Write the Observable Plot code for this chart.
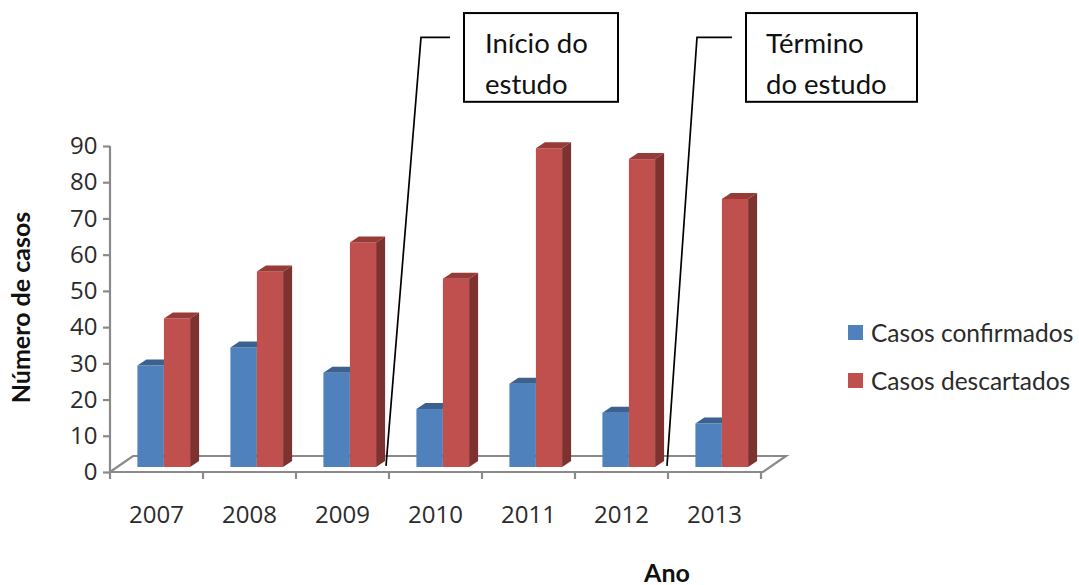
<!DOCTYPE html>
<html>
<head>
<meta charset="utf-8">
<script src="https://cdn.jsdelivr.net/npm/d3@7"></script>
<script src="https://cdn.jsdelivr.net/npm/@observablehq/plot@0.6"></script>
<style>html,body{margin:0;padding:0;background:#fff}</style>
</head>
<body>
<div id="chart"></div>
<script>
const years = ["2007","2008","2009","2010","2011","2012","2013"];
const confirmados = [28,33,26,16,23,15,12];
const descartados = [41,54,62,52,88,85,74];
const seriesNames = ["Casos confirmados","Casos descartados"];
const seriesColors = ["#4F81BD","#C0504D"];
const topColors = ["#3B628F","#973B39"];
const sideColors = ["#335680","#7D3230"];
const yTicks = [0,10,20,30,40,50,60,70,80,90];
const calloutLines = [["Início do","estudo"],["Término","do estudo"]];
const calloutAfter = ["2009","2012"];

const rows = (name, values) => values.map((value, i) => ({year: years[i], value, series: name}));
const AXIS = "#8A8A8A", TEXT = "#2b2b2b", FONT = "Open Sans", LABEL_FONT = "Lato";
const DEPTH_X = 9, DEPTH_Y = 6, FLOOR_X = 23, FLOOR_Y = 16;

// Adds the top and side faces to the bars that Plot has just drawn
const faces = k => (index, scales, values, dimensions, context, next) => {
  const g = next(index, scales, values, dimensions, context);
  d3.select(g).selectAll("rect").each(function () {
    const x = +this.getAttribute("x"), y = +this.getAttribute("y");
    const w = +this.getAttribute("width"), h = +this.getAttribute("height");
    const d = `M${x},${y}l${DEPTH_X},${-DEPTH_Y}h${w}l${-DEPTH_X},${DEPTH_Y}z`;
    const s = `M${x+w},${y}l${DEPTH_X},${-DEPTH_Y}v${h}l${-DEPTH_X},${DEPTH_Y}z`;
    d3.select(g).append("path").attr("d", d).attr("fill", topColors[k]);
    d3.select(g).append("path").attr("d", s).attr("fill", sideColors[k]);
  });
  return g;
};

const bars = (k, values, dx) => Plot.barY(rows(seriesNames[k], values), {
  x: "year", y: "value", fill: "series",
  insetLeft: 33.4, insetRight: 33.4, dx, dy: -5,
  render: faces(k)
});

// Chart floor and the category tick marks, which sit between categories
const floor = (index, {x, y}) => {
  const g = d3.create("svg:g").attr("fill", "none").attr("stroke", AXIS).attr("stroke-width", 2.2);
  const [x0, x1] = x.range(), y0 = y(0);
  g.append("path").attr("d", `M${x0},${y0}L${x0+FLOOR_X},${y0-FLOOR_Y}H${x1+FLOOR_X}L${x1},${y0}H${x0}`);
  g.append("path").attr("d", `M${x0},${y(90)}V${y0}`);
  const step = x.step();
  d3.range(years.length + 1).forEach(i =>
    g.append("path").attr("d", `M${x0+i*step},${y0}v7`));
  return g.node();
};

// Callout boxes with their leader lines, anchored on the category gap they mark
const callouts = (index, {x, y}) => {
  const g = d3.create("svg:g");
  calloutLines.forEach((lines, i) => {
    const gap = x(calloutAfter[i]) + x.bandwidth() + (i ? -2 : -4);
    const bottom = y(1.7), top = y(120);
    const boxLeft = gap + (i ? 79 : 78), boxW = i ? 171 : 154;
    g.append("path").attr("fill", "none").attr("stroke", "#000").attr("stroke-width", 1.7)
      .attr("d", `M${gap},${bottom}L${gap+(i?30:35)},${top}H${gap+(i?65:64)}`);
    g.append("rect").attr("x", boxLeft).attr("y", y(126.7)).attr("width", boxW).attr("height", y(102.2) - y(126.7))
      .attr("fill", "#fff").attr("stroke", "#000").attr("stroke-width", 2);
    lines.forEach((t, j) => g.append("text").attr("x", boxLeft + (i ? 20 : 21)).attr("y", y(115.6) + j * 41)
      .attr("text-anchor", "start")
      .attr("font-family", LABEL_FONT).attr("font-size", 27.5).attr("fill", "#111").text(t));
  });
  return g.node();
};

// Legend beside the plot, using the colours of the colour scale
const legend = (index, {color}) => {
  const g = d3.create("svg:g");
  seriesNames.forEach((name, i) => {
    const top = 325 + i * 48;
    g.append("rect").attr("x", 848).attr("y", top).attr("width", 15).attr("height", 15).attr("fill", color(name));
    g.append("text").attr("x", 871).attr("y", top + 8).attr("dy", "0.35em").attr("text-anchor", "start")
      .attr("font-family", LABEL_FONT).attr("font-size", 24.5).attr("fill", TEXT).text(name);
  });
  return g.node();
};

const chart = Plot.plot({
  width: 1079, height: 585,
  marginLeft: 110, marginRight: 316, marginTop: 146, marginBottom: 113,
  style: {fontFamily: FONT, background: "#fff", overflow: "visible"},
  x: {domain: years, padding: 0, axis: null},
  y: {domain: [0, 90], ticks: yTicks, axis: null},
  color: {domain: seriesNames, range: seriesColors},
  marks: [
    floor,
    Plot.axisY({ticks: yTicks, anchor: "left", tickSize: 7, stroke: AXIS, strokeWidth: 2.2,
      tickPadding: 6, fontSize: 24, fontFamily: FONT, label: null, fill: TEXT}),
    Plot.axisX({anchor: "bottom", tickSize: 0, tickPadding: 33, dx: -1.5, fontSize: 24, fontFamily: FONT, label: null, fill: TEXT}),
    bars(0, confirmados, -7),
    bars(1, descartados, 19.5),
    callouts,
    legend,
    Plot.text(["Número de casos"], {frameAnchor: "left", dx: -89, rotate: -90, fontFamily: LABEL_FONT,
      fontSize: 25, fontWeight: "bold", fill: "#111", dy: -2, textAnchor: "middle"}),
    Plot.text(["Ano"], {frameAnchor: "bottom", dx: 230, dy: 109, fontFamily: LABEL_FONT,
      fontSize: 25, fontWeight: "bold", fill: "#111"})
  ]
});
document.getElementById("chart").append(chart);
</script>
</body>
</html>
